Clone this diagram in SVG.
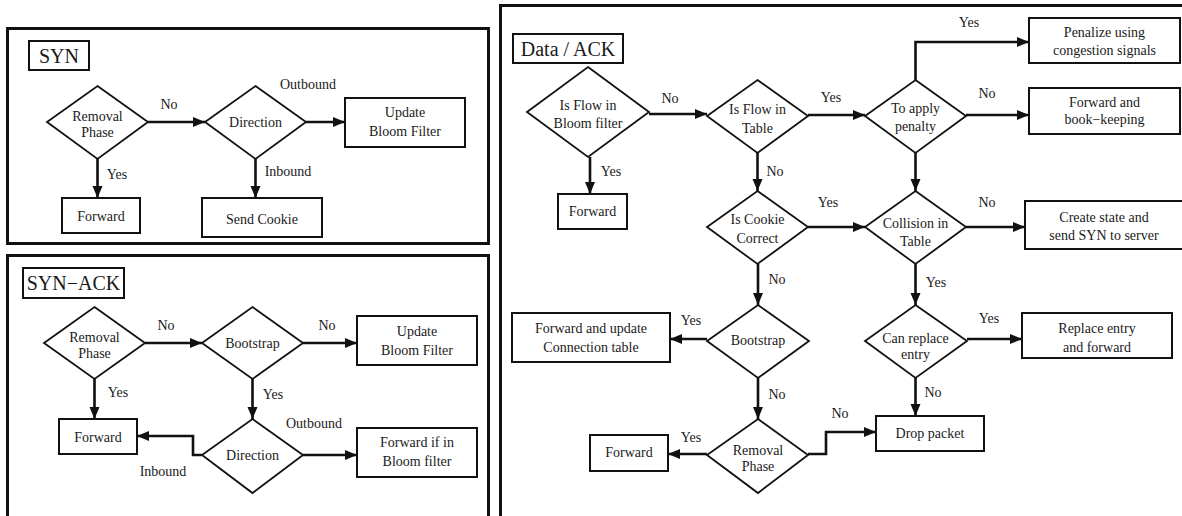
<svg xmlns="http://www.w3.org/2000/svg" width="1182" height="516" viewBox="0 0 1182 516" font-family="'Liberation Serif', 'DejaVu Serif', serif">
<style>
text{font-family:'Liberation Serif','DejaVu Serif',serif;font-size:14px;fill:#1a1a1a;text-anchor:middle}
.t{font-size:20px}
.panel{fill:none;stroke:#111;stroke-width:3}
.box{fill:#fff;stroke:#111;stroke-width:2}
.dia{fill:#fff;stroke:#111;stroke-width:1.8}
.c{fill:none;stroke:#111;stroke-width:2.6;marker-end:url(#ah)}
</style>
<defs>
<marker id="ah" markerUnits="userSpaceOnUse" markerWidth="14" markerHeight="12" refX="12" refY="5" orient="auto">
<path d="M0,0 L12,5 L0,10 Z" fill="#111"/>
</marker>
</defs>
<rect width="1182" height="516" fill="#fff"/>

<!-- panels -->
<rect class="panel" x="7.5" y="28.5" width="481" height="215"/>
<rect class="panel" x="7.5" y="255.5" width="481" height="290"/>
<rect class="panel" x="500.5" y="5.5" width="700" height="540"/>

<!-- connectors -->
<g id="connectors">
<path class="c" d="M148,122 H205"/>
<path class="c" d="M306,122 H345"/>
<path class="c" d="M97.5,159 V198"/>
<path class="c" d="M255.5,159 V198"/>
<path class="c" d="M145,343 H202"/>
<path class="c" d="M303,343 H357"/>
<path class="c" d="M94.5,379 V419"/>
<path class="c" d="M252.5,379 V419"/>
<path class="c" d="M303,455 H357"/>
<path class="c" d="M202,455 H193 V436 H137"/>
<path class="c" d="M649,114 H707"/>
<path class="c" d="M590,157 V194"/>
<path class="c" d="M757.5,153 V191"/>
<path class="c" d="M808,115 H865"/>
<path class="c" d="M915.5,80 V42 H1029"/>
<path class="c" d="M966,115 H1029"/>
<path class="c" d="M915.5,153 V191"/>
<path class="c" d="M808,227 H865"/>
<path class="c" d="M966,227 H1025"/>
<path class="c" d="M915.5,264 V305"/>
<path class="c" d="M967,339 H1022"/>
<path class="c" d="M915.5,378 V416"/>
<path class="c" d="M758,264 V305"/>
<path class="c" d="M707,339 H670"/>
<path class="c" d="M758,378 V419"/>
<path class="c" d="M707,454 H668"/>
<path class="c" d="M808,454 H826 V432 H876"/>
</g>

<!-- connector labels -->
<g id="labels">
<text x="169" y="109">No</text>
<text x="308" y="89">Outbound</text>
<text x="117" y="179">Yes</text>
<text x="288" y="176">Inbound</text>
<text x="166" y="330">No</text>
<text x="327" y="330">No</text>
<text x="118" y="397">Yes</text>
<text x="273" y="399">Yes</text>
<text x="314" y="428">Outbound</text>
<text x="163" y="476">Inbound</text>
<text x="670" y="103">No</text>
<text x="611" y="176">Yes</text>
<text x="775" y="176">No</text>
<text x="831" y="102">Yes</text>
<text x="969" y="27">Yes</text>
<text x="987" y="98">No</text>
<text x="828" y="207">Yes</text>
<text x="987" y="207">No</text>
<text x="936" y="287">Yes</text>
<text x="989" y="323">Yes</text>
<text x="933" y="397">No</text>
<text x="777" y="284">No</text>
<text x="691" y="325">Yes</text>
<text x="777" y="399">No</text>
<text x="691" y="442">Yes</text>
<text x="840" y="418">No</text>
</g>

<!-- SYN panel -->
<g id="syn-title"><rect class="box" x="29" y="41" width="60" height="29"/><text class="t" x="59" y="63">SYN</text></g>
<g id="syn-removal"><polygon class="dia" points="97.5,86 148,122 97.5,159 47,122"/><text x="97.5" y="121">Removal</text><text x="97.5" y="137">Phase</text></g>
<g id="syn-direction"><polygon class="dia" points="255.5,86 306,122 255.5,159 205,122"/><text x="255.5" y="127">Direction</text></g>
<g id="syn-update"><rect class="box" x="345" y="98" width="120" height="49"/><text x="405" y="117">Update</text><text x="405" y="136">Bloom Filter</text></g>
<g id="syn-forward"><rect class="box" x="62" y="198" width="78" height="35"/><text x="101" y="221">Forward</text></g>
<g id="syn-cookie"><rect class="box" x="202" y="198" width="120" height="39"/><text x="262" y="224">Send Cookie</text></g>

<!-- SYN-ACK panel -->
<g id="sa-title"><rect class="box" x="23" y="268" width="101" height="30"/><text class="t" x="73.5" y="290">SYN−ACK</text></g>
<g id="sa-removal"><polygon class="dia" points="94.5,307 145,343 94.5,379 44,343"/><text x="94.5" y="342">Removal</text><text x="94.5" y="358">Phase</text></g>
<g id="sa-bootstrap"><polygon class="dia" points="252.5,307 303,343 252.5,379 202,343"/><text x="252.5" y="348">Bootstrap</text></g>
<g id="sa-update"><rect class="box" x="357" y="316" width="120" height="49"/><text x="417" y="336">Update</text><text x="417" y="355">Bloom Filter</text></g>
<g id="sa-direction"><polygon class="dia" points="252.5,419 303,455 252.5,493 202,455"/><text x="252.5" y="460">Direction</text></g>
<g id="sa-forward"><rect class="box" x="59" y="419" width="78" height="35"/><text x="98" y="442">Forward</text></g>
<g id="sa-fwdbloom"><rect class="box" x="357" y="428" width="120" height="49"/><text x="417" y="447">Forward if in</text><text x="417" y="466">Bloom filter</text></g>

<!-- Data / ACK panel -->
<g id="d-title"><rect class="box" x="513" y="34" width="110" height="29"/><text class="t" x="568" y="56">Data / ACK</text></g>
<g id="d-bloom"><polygon class="dia" points="588,67 649,112 588,157 527,112"/><text x="588" y="110">Is Flow in</text><text x="588" y="128">Bloom filter</text></g>
<g id="d-forward1"><rect class="box" x="558" y="194" width="69" height="35"/><text x="592.5" y="216">Forward</text></g>
<g id="d-table"><polygon class="dia" points="757.5,80 808,116 757.5,153 707,116"/><text x="757.5" y="114">Is Flow in</text><text x="757.5" y="133">Table</text></g>
<g id="d-penalty"><polygon class="dia" points="915.5,80 966,116 915.5,153 865,116"/><text x="915.5" y="113">To apply</text><text x="915.5" y="131">penalty</text></g>
<g id="d-penalize"><rect class="box" x="1029" y="18" width="151" height="45"/><text x="1104.5" y="37">Penalize using</text><text x="1104.5" y="55">congestion signals</text></g>
<g id="d-bookkeep"><rect class="box" x="1029" y="88" width="151" height="46"/><text x="1104.5" y="107">Forward and</text><text x="1104.5" y="124">book−keeping</text></g>
<g id="d-cookie"><polygon class="dia" points="757.5,191 808,227 757.5,264 707,227"/><text x="757.5" y="224">Is Cookie</text><text x="757.5" y="243">Correct</text></g>
<g id="d-collision"><polygon class="dia" points="915.5,191 966,227 915.5,264 865,227"/><text x="915.5" y="228">Collision in</text><text x="915.5" y="246">Table</text></g>
<g id="d-create"><rect class="box" x="1025" y="201" width="170" height="48"/><text x="1104" y="222">Create state and</text><text x="1104" y="240">send SYN to server</text></g>
<g id="d-bootstrap"><polygon class="dia" points="758,305 809,341 758,378 707,341"/><text x="758" y="345">Bootstrap</text></g>
<g id="d-fwdupdate"><rect class="box" x="512" y="313" width="158" height="49"/><text x="591" y="333">Forward and update</text><text x="591" y="352">Connection table</text></g>
<g id="d-canreplace"><polygon class="dia" points="915.5,305 967,341 915.5,378 865,341"/><text x="915.5" y="343">Can replace</text><text x="915.5" y="359">entry</text></g>
<g id="d-replace"><rect class="box" x="1022" y="313" width="150" height="45"/><text x="1097" y="333">Replace entry</text><text x="1097" y="352">and forward</text></g>
<g id="d-removal"><polygon class="dia" points="758,419 808,455 758,493 707,455"/><text x="758" y="455">Removal</text><text x="758" y="471">Phase</text></g>
<g id="d-forward2"><rect class="box" x="590" y="435" width="78" height="36"/><text x="629" y="457">Forward</text></g>
<g id="d-drop"><rect class="box" x="876" y="416" width="108" height="35"/><text x="930" y="438">Drop packet</text></g>
</svg>
